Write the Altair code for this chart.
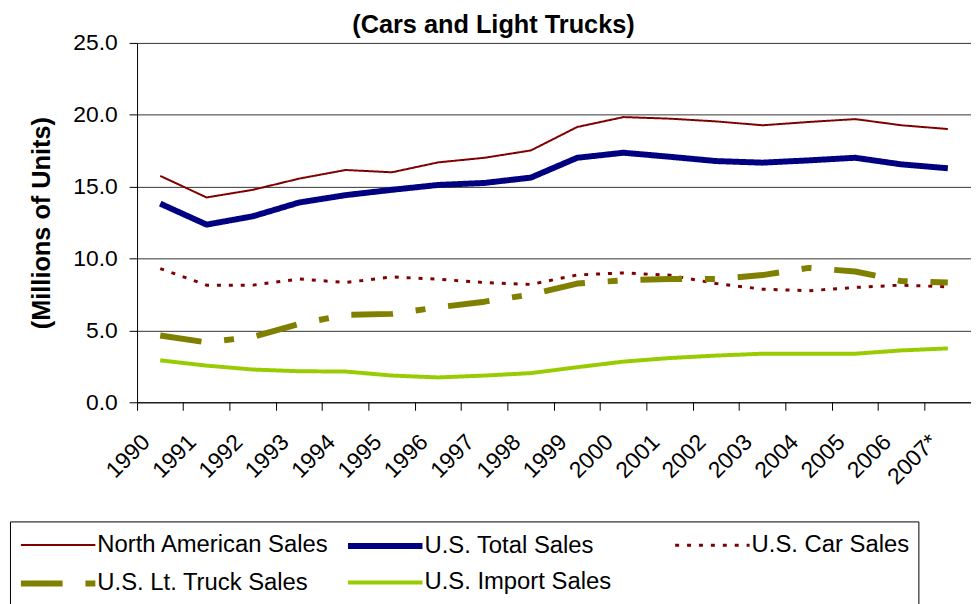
import altair as alt
import pandas as pd

years = ["1990", "1991", "1992", "1993", "1994", "1995", "1996", "1997", "1998",
         "1999", "2000", "2001", "2002", "2003", "2004", "2005", "2006", "2007*"]

north_american = [15.75, 14.25, 14.78, 15.56, 16.16, 16.0, 16.69, 17.01, 17.52,
                  19.15, 19.84, 19.73, 19.54, 19.27, 19.5, 19.7, 19.27, 19.01]
us_total = [13.82, 12.36, 12.94, 13.9, 14.41, 14.78, 15.12, 15.26, 15.63,
            17.01, 17.36, 17.08, 16.78, 16.67, 16.83, 17.01, 16.55, 16.28]
us_car = [9.3, 8.15, 8.15, 8.58, 8.33, 8.72, 8.56, 8.33, 8.2,
          8.86, 9.0, 8.84, 8.26, 7.87, 7.76, 7.99, 8.15, 8.03]
us_truck = [4.65, 4.17, 4.55, 5.46, 6.08, 6.15, 6.61, 7.0, 7.5,
            8.26, 8.49, 8.58, 8.58, 8.85, 9.35, 9.1, 8.43, 8.33]
us_import = [2.92, 2.55, 2.28, 2.16, 2.14, 1.86, 1.73, 1.86, 2.03,
             2.44, 2.83, 3.08, 3.25, 3.38, 3.38, 3.38, 3.61, 3.75]

series_names = ["North American Sales", "U.S. Total Sales", "U.S. Car Sales",
                "U.S. Lt. Truck Sales", "U.S. Import Sales"]
series_values = [north_american, us_total, us_car, us_truck, us_import]
series_colors = ["#800000", "#000080", "#800000", "#808000", "#99CC00"]
series_dashes = [[1, 0], [1, 0], [4, 8], [42, 23, 10, 23], [1, 0]]
series_widths = [2, 6, 3, 6, 4]
y_ticks = [0, 5, 10, 15, 20, 25]

rows = []
for i, (name, vals) in enumerate(zip(series_names, series_values)):
    for yr, v in zip(years, vals):
        rows.append({"year": yr, "value": v, "series": name, "order": i})
df = pd.DataFrame(rows)

# pad the last entry of the first legend row with invisible spaces so the
# legend frame runs past the right edge, as in the original
pad = "\u00a0" * 11
label_expr = f"datum.label == 'U.S. Car Sales' ? datum.label + '{pad}' : datum.label"

leg = alt.Legend(
    title=None, orient="none", legendX=-128, legendY=482, columns=3,
    direction="horizontal", values=series_names,
    gridAlign="all", columnPadding=6.5, rowPadding=10, padding=9,
    strokeColor="#000000", fillColor="#ffffff", symbolType="M-3,0H3",
    symbolSize=625, symbolOffset=24, labelFontSize=24, labelOffset=24,
    labelLimit=400, labelColor="#000000", labelFont="Liberation Sans",
    labelExpr=label_expr,
)

chart = alt.Chart(df).mark_line(strokeCap="butt", strokeJoin="round").encode(
    x=alt.X("year:N", sort=years, bandPosition=0.5,
            scale=alt.Scale(type="band", paddingInner=0, paddingOuter=0),
            axis=alt.Axis(title=None, bandPosition=0, labelAngle=315, labelAlign="right",
                          labelBaseline="middle", labelPadding=28, labelOffset=-14,
                          labelFontSize=23, labelColor="#000000", tickSize=8,
                          tickColor="#000000", domainColor="#000000", grid=False)),
    y=alt.Y("value:Q", scale=alt.Scale(domain=[0, 25], nice=False),
            axis=alt.Axis(values=y_ticks, format=".1f", title="(Millions of Units)",
                          titleFontSize=25.5, titleFontWeight="bold", titleColor="#000000",
                          titleAngle=270, titleX=-96, titleY=181, titleAlign="center",
                          titleBaseline="middle", labelFontSize=23, labelColor="#000000",
                          labelPadding=12, tickSize=8, tickColor="#000000",
                          domainColor="#000000", grid=True, gridColor="#333333",
                          gridOpacity=1)),
    color=alt.Color("series:N", sort=series_names,
                    scale=alt.Scale(domain=series_names, range=series_colors),
                    legend=leg),
    strokeDash=alt.StrokeDash("series:N", sort=series_names,
                              scale=alt.Scale(domain=series_names, range=series_dashes),
                              legend=leg),
    strokeWidth=alt.StrokeWidth("series:N", sort=series_names,
                                scale=alt.Scale(type="ordinal", domain=series_names, range=series_widths),
                                legend=leg),
    order=alt.Order("order:Q"),
).properties(
    width=840, height=362,
    title=alt.TitleParams("(Cars and Light Trucks)", fontSize=25.5, fontWeight="bold",
                          anchor="middle", dx=-61, dy=36, offset=9, baseline="alphabetic",
                          color="#000000"),
    autosize=alt.AutoSizeParams(type="none"),
    padding={"left": 130, "top": 33, "right": 0, "bottom": 201},
).configure(font="Liberation Sans").configure_view(stroke=None)

chart.save("out.html", embed_options={"renderer": "svg", "actions": False})
